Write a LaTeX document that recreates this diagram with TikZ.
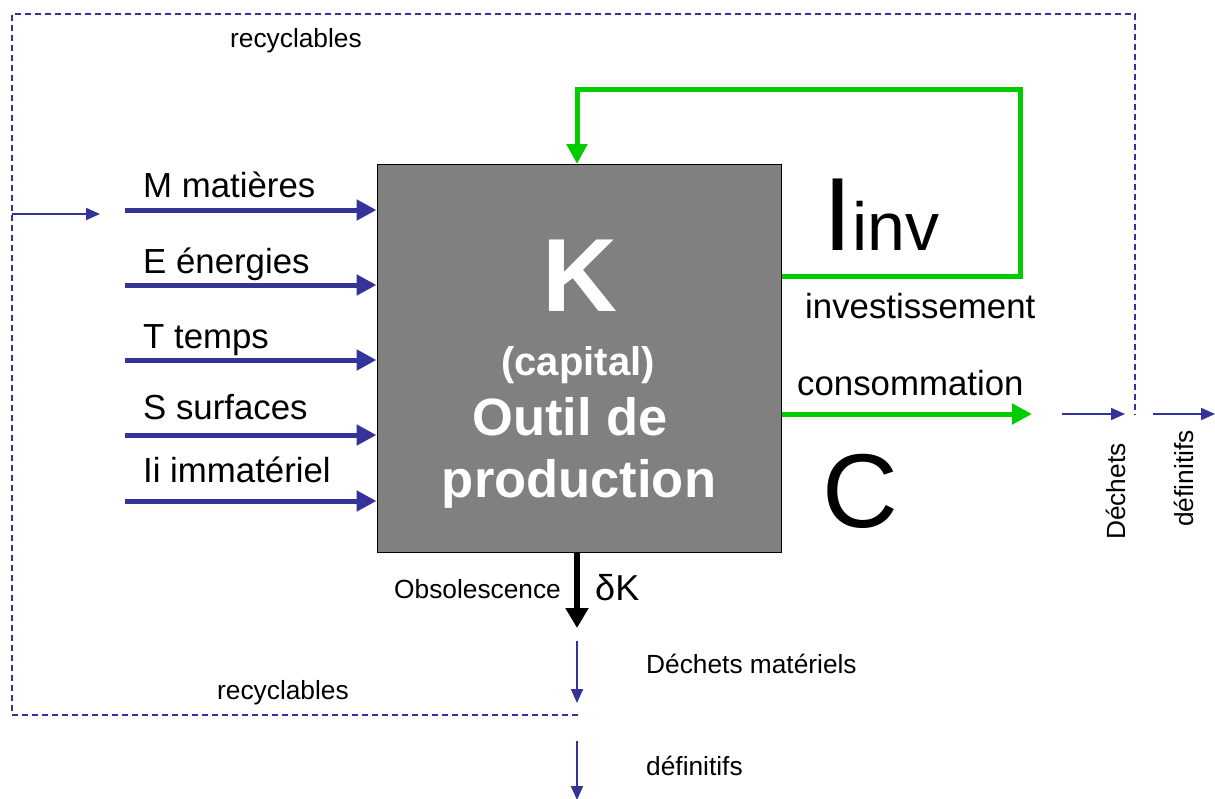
\documentclass[tikz,border=0pt]{standalone}
\usepackage{fontspec}
\setmainfont{Liberation Sans}
\usetikzlibrary{arrows.meta}
\definecolor{navy}{RGB}{51,51,153}
\definecolor{grn}{RGB}{0,204,0}
\definecolor{boxgray}{RGB}{128,128,128}
\begin{document}
\begin{tikzpicture}[x=1pt,y=-1pt,
  inarrow/.style={draw=navy,line width=5pt,-{Triangle[length=20pt,width=20pt]}},
  thinarrow/.style={draw=navy,line width=2pt,-{Triangle[length=14pt,width=12pt]}},
  greenline/.style={draw=grn,line width=5pt},
  dashframe/.style={draw=navy,line width=1.5pt,dash pattern=on 6pt off 4pt},
  lbl/.style={inner sep=0pt,anchor=base west,font=\fontsize{34.8}{36}\selectfont},
  small/.style={inner sep=0pt,anchor=base west,font=\fontsize{26.3}{28}\selectfont},
  white text/.style={inner sep=0pt,anchor=base,text=white,font=\bfseries}
]
\useasboundingbox (0,0) rectangle (1215,798);
% main box
\node[draw=black,line width=1pt,fill=boxgray,minimum width=404pt,minimum height=388pt,inner sep=0pt] (K) at (579,358) {};
\node[white text,font=\fontsize{104}{104}\bfseries\selectfont] (Kl) at (580,311) {K};
\node[white text,font=\fontsize{40}{40}\bfseries\selectfont] (cap) at (578,375) {(capital)};
\node[white text,font=\fontsize{52.5}{52}\bfseries\selectfont] (outil) at (570,435) {Outil de};
\node[white text,font=\fontsize{52.5}{52}\bfseries\selectfont] (prod) at (579,497) {production};
% dashed recycling frame
\coordinate (fbl) at (578,715);
\coordinate (fl) at (12,715);
\coordinate (ftl) at (12,14);
\coordinate (ftr) at (1135,14);
\coordinate (fr) at (1135,415);
\draw[dashframe] (fbl) -- (fl) -- (ftl) -- (ftr) -- (fr);
\node[small] (rtop) at (230,47) {recyclables};
\node[small] (rbot) at (217,699) {recyclables};
% small re-entry arrow
\coordinate (re0) at (12,214);
\coordinate (re1) at (100,214);
\draw[thinarrow] (re0) -- (re1);
% inputs
\foreach \y/\n in {210/m,285/e,360/t,435/s,501/i}{
  \coordinate (\n0) at (125,\y);
  \draw[inarrow] (\n0) -- (\n0 -| K.west);
}
\node[lbl] (lm) at (143,197) {M matières};
\node[lbl] (le) at (143,273) {E énergies};
\node[lbl] (lt) at (143,348) {T temps};
\node[lbl] (ls) at (143,419) {S surfaces};
\node[lbl] (li) at (143,482) {Ii immatériel};
% investment loop
\coordinate (g0) at (K.east |- 0,276);
\coordinate (g1) at (1020,276);
\coordinate (g2) at (1020,89);
\coordinate (g3) at (577,89);
\coordinate (g4) at (577,164);
\draw[greenline,-{Triangle[length=20pt,width=20pt]}] (g0) -- (g1) -- (g2) -- (g3) -- (g4);
\node[inner sep=0pt,anchor=base west] (Iinv) at (823,250) {\fontsize{104}{104}\selectfont I\fontsize{68}{70}\selectfont inv};
\node[lbl] (inv) at (805,318) {investissement};
% consumption
\coordinate (c0) at (K.east |- 0,414);
\coordinate (c1) at (1032,414);
\draw[greenline,-{Triangle[length=20pt,width=20pt]}] (c0) -- (c1);
\node[lbl] (cons) at (797,395) {consommation};
\node[inner sep=0pt,anchor=base west,font=\fontsize{105}{105}\selectfont] (C) at (822,527) {C};
% waste right
\coordinate (w0) at (1062,414);
\coordinate (w1) at (1125,414);
\coordinate (w2) at (1153,414);
\coordinate (w3) at (1215,414);
\draw[thinarrow] (w0) -- (w1);
\draw[thinarrow] (w2) -- (w3);
\node[small,rotate=90] (dech) at (1125,540) {Déchets};
\node[small,rotate=90] (defr) at (1193,527) {définitifs};
% obsolescence
\coordinate (o1) at (577,628);
\draw[draw=black,line width=6pt,-{Triangle[length=20pt,width=22pt]}] (K.south -| 577,0) -- (o1);
\node[small] (obs) at (394,598) {Obsolescence};
\node[inner sep=0pt,anchor=base west,font=\fontsize{36}{38}\selectfont] (dK) at (595,600) {δK};
\coordinate (d0) at (577,641);
\coordinate (d1) at (577,703);
\coordinate (d2) at (577,741);
\coordinate (d3) at (577,800);
\draw[thinarrow] (d0) -- (d1);
\draw[thinarrow] (d2) -- (d3);
\node[small] (dm) at (646,673) {Déchets matériels};
\node[small] (df) at (646,775) {définitifs};
\end{tikzpicture}
\end{document}
